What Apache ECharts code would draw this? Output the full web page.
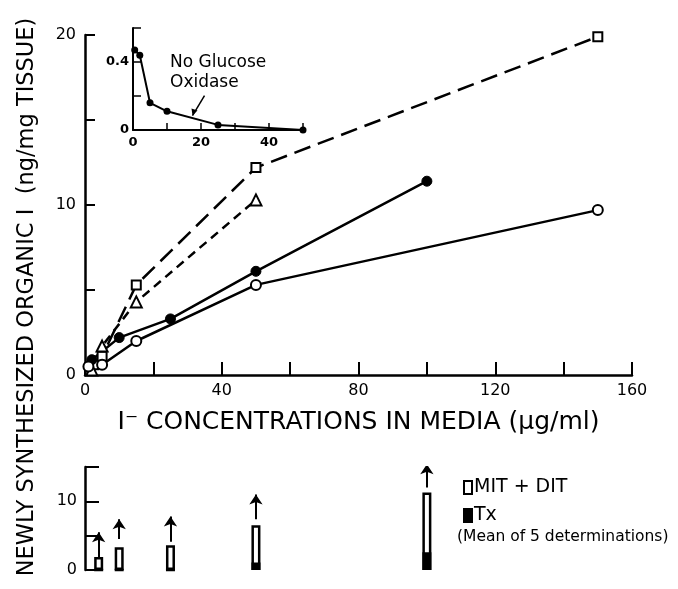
<!DOCTYPE html>
<html><head><meta charset="utf-8">
<script src="https://cdn.jsdelivr.net/npm/echarts@6/dist/echarts.min.js"></script>
<style>html,body{margin:0;padding:0;background:#fff}#c{width:678px;height:589px}</style>
</head><body><div id="c"></div>
<script>
// ---- data ----
const openSquares   = [[2.5,0.6],[5,1.1],[15,5.3],[50,12.2],[150,19.9]];
const openTriangles = [[2,0.3],[5,1.7],[15,4.3],[50,10.3]];
const filledCircles = [[2,0.9],[10,2.2],[25,3.3],[50,6.1],[100,11.4]];
const openCircles   = [[1,0.5],[5,0.6],[15,2.0],[50,5.3],[150,9.7]];
const insetPoints   = [[0.5,0.47],[2,0.44],[5,0.16],[10,0.11],[25,0.03],[50,0.0]];
const barX          = [4,10,25,50,100];
const barTotal      = [1.9,3.3,3.6,6.5,11.3];
const barTx         = [0,0,0,1.1,2.6];
const arrowBase     = [1.6,4.5,4.1,7.4,12.0];
const arrowTip      = [5.5,7.4,7.8,11.0,15.4];
const xTicksMain = [0,40,80,120,160];
const yTicksMain = [0,10,20];
const insetXTicks = [0,20,40];

const FONT = 'DejaVu Sans';
const K = '#000';

function axisBase(extra){
  return Object.assign({
    type:'value',
    axisLine:{show:true,onZero:false,lineStyle:{color:K,width:2.5}},
    axisTick:{show:true,inside:true,length:10,lineStyle:{color:K,width:2}},
    splitLine:{show:false},
    axisLabel:{color:K,fontFamily:FONT,fontSize:16}
  },extra);
}

const chart = echarts.init(document.getElementById('c'),null,{renderer:'canvas'});
const opt = {
  backgroundColor:'#fff',
  animation:false,
  grid:[
    {left:85,top:35,width:547,height:340},
    {left:133,top:28,width:170,height:102},
    {left:85,top:467,width:547,height:103}
  ],
  xAxis:[
    axisBase({gridIndex:0,min:0,max:160,interval:20,
      axisTick:{show:true,inside:true,length:13,lineStyle:{color:K,width:2}},
      axisLabel:{color:K,fontFamily:FONT,fontSize:16,margin:8,
        formatter:v=>xTicksMain.includes(v)?String(v):''},
      name:'I\u207B CONCENTRATIONS IN MEDIA (\u03BCg/ml)',nameLocation:'middle',nameGap:35,
      nameTextStyle:{color:K,fontFamily:FONT,fontSize:25}}),
    axisBase({gridIndex:1,min:0,max:50,interval:10,
      axisLine:{show:true,onZero:false,lineStyle:{color:K,width:2}},
      axisTick:{show:true,inside:true,length:7,lineStyle:{color:K,width:1.5}},
      axisLabel:{color:K,fontFamily:FONT,fontSize:13,fontWeight:'bold',margin:6,
        formatter:v=>insetXTicks.includes(v)?String(v):''}}),
    {type:'value',gridIndex:2,min:0,max:160,show:false}
  ],
  yAxis:[
    axisBase({gridIndex:0,min:0,max:20,interval:5,
      axisLabel:{color:K,fontFamily:FONT,fontSize:16,margin:9,
        formatter:v=>yTicksMain.includes(v)?String(v):''}}),
    axisBase({gridIndex:1,min:0,max:0.6,interval:0.2,
      axisLine:{show:true,onZero:false,lineStyle:{color:K,width:2}},
      axisTick:{show:true,inside:true,length:8,lineStyle:{color:K,width:1.5}},
      axisLabel:{color:K,fontFamily:FONT,fontSize:13,fontWeight:'bold',margin:4,
        formatter:v=>Math.abs(v)<1e-9?'0':(Math.abs(v-0.4)<1e-9?'0.4':'')}}),
    axisBase({gridIndex:2,min:0,max:15,interval:5,
      axisTick:{show:true,inside:true,length:14,lineStyle:{color:K,width:2}},
      axisLabel:{color:K,fontFamily:FONT,fontSize:16,margin:8,
        formatter:v=>(v%10===0)?String(v):''}})
  ],
  legend:{
    orient:'vertical',left:458,top:473,itemWidth:8,itemHeight:13,itemGap:9,icon:'rect',
    data:['MIT + DIT','Tx'],
    textStyle:{color:K,fontFamily:FONT,fontSize:19,padding:[0,0,0,-3]},
    selectedMode:false
  },
  series:[
    {type:'line',name:'sq',xAxisIndex:0,yAxisIndex:0,data:openSquares,
      symbol:'rect',symbolSize:9,showAllSymbol:true,z:3,
      itemStyle:{color:'#fff',borderColor:K,borderWidth:2},
      lineStyle:{color:K,width:2.5,type:[17,8]}},
    {type:'line',name:'tri',xAxisIndex:0,yAxisIndex:0,data:openTriangles,
      symbol:'triangle',symbolSize:11,z:3,
      itemStyle:{color:'#fff',borderColor:K,borderWidth:2},
      lineStyle:{color:K,width:2.5,type:[9,6]}},
    {type:'line',name:'fc',xAxisIndex:0,yAxisIndex:0,data:filledCircles,
      symbol:'circle',symbolSize:10,z:3,
      itemStyle:{color:K,borderColor:K,borderWidth:1},
      lineStyle:{color:K,width:2.5}},
    {type:'line',name:'oc',xAxisIndex:0,yAxisIndex:0,data:openCircles,
      symbol:'circle',symbolSize:10,z:3,
      itemStyle:{color:'#fff',borderColor:K,borderWidth:2},
      lineStyle:{color:K,width:2.5}},
    {type:'line',name:'inset',xAxisIndex:1,yAxisIndex:1,data:insetPoints,
      symbol:'circle',symbolSize:7,z:3,clip:false,
      itemStyle:{color:K},lineStyle:{color:K,width:2}},
    {type:'bar',name:'MIT + DIT',xAxisIndex:2,yAxisIndex:2,barWidth:9,
      data:barX.map((x,i)=>[x,barTotal[i]]),
      itemStyle:{color:'#fff',borderColor:K,borderWidth:2.5}},
    {type:'bar',name:'Tx',xAxisIndex:2,yAxisIndex:2,barWidth:9,barGap:'-100%',
      data:barX.map((x,i)=>[x,barTx[i]]),
      itemStyle:{color:K,borderColor:K,borderWidth:2.5}},
    {type:'lines',coordinateSystem:'cartesian2d',xAxisIndex:2,yAxisIndex:2,
      symbol:['none','arrow'],symbolSize:[7,10],
      lineStyle:{color:K,width:2,opacity:1},
      data:barX.map((x,i)=>({coords:[[x,arrowBase[i]],[x,arrowTip[i]]]}))}
  ]
};
chart.setOption(opt);
// annotations; the inset arrow is anchored to data coordinates
const tip = chart.convertToPixel({xAxisIndex:1,yAxisIndex:1},[17.5,0.085]);
const tail = [tip[0]+12, tip[1]-20];
chart.setOption({graphic:[
  {type:'text',x:27,y:297,rotation:Math.PI/2,
    style:{text:'NEWLY SYNTHESIZED ORGANIC I  (ng/mg TISSUE)',fill:K,
      font:'22.5px "DejaVu Sans"',align:'center',verticalAlign:'middle'}},
  {type:'text',x:170,y:53,
    style:{text:'No Glucose\nOxidase',fill:K,font:'17px "DejaVu Sans"',lineHeight:20}},
  {type:'text',x:457,y:529,
    style:{text:'(Mean of 5 determinations)',fill:K,font:'15.5px "DejaVu Sans"'}},
  {type:'line',shape:{x1:tail[0],y1:tail[1],x2:tip[0],y2:tip[1]},style:{stroke:K,lineWidth:1.5}},
  {type:'polygon',shape:{points:[[tip[0],tip[1]],[tip[0]-1,tip[1]-7],[tip[0]+5,tip[1]-5]]},style:{fill:K}}
]});
</script>
</body></html>
